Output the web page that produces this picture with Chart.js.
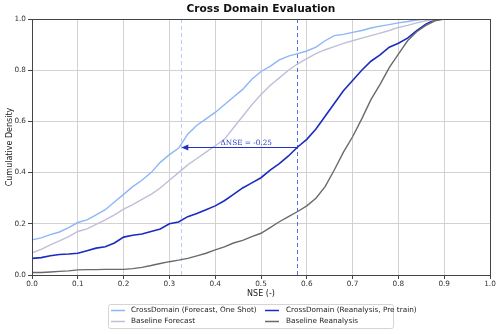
<!DOCTYPE html>
<html>
<head>
<meta charset="utf-8">
<script src="https://cdn.jsdelivr.net/npm/chart.js@4"></script>
<style>
  html, body { margin: 0; padding: 0; background: #fff; }
  #wrap { width: 500px; height: 334px; }
</style>
</head>
<body>
<div id="wrap"><canvas id="cdf" width="500" height="334"></canvas></div>
<script>
// NSE grid shared by all curves (x values)
const nseGrid = [0, 0.02, 0.04, 0.06, 0.08, 0.10, 0.12, 0.14, 0.16, 0.18,
  0.20, 0.22, 0.24, 0.26, 0.28, 0.30, 0.32, 0.34, 0.36, 0.38,
  0.40, 0.42, 0.44, 0.46, 0.48, 0.50, 0.52, 0.54, 0.56, 0.58,
  0.60, 0.62, 0.64, 0.66, 0.68, 0.70, 0.72, 0.74, 0.76, 0.78,
  0.80, 0.82, 0.84, 0.86, 0.88, 0.90, 0.92];

// cumulative density
const cdfForecastOneShot = [0.137, 0.145, 0.158, 0.168, 0.185, 0.205, 0.215, 0.235, 0.255, 0.285,
  0.315, 0.345, 0.37, 0.40, 0.44, 0.47, 0.495, 0.55, 0.585, 0.61,
  0.635, 0.665, 0.695, 0.725, 0.765, 0.795, 0.815, 0.84, 0.855, 0.865,
  0.875, 0.89, 0.915, 0.935, 0.94, 0.948, 0.955, 0.965, 0.972, 0.978,
  0.985, 0.99, 0.996, 1.0, null, null, null];
const cdfBaselineForecast = [0.087, 0.10, 0.118, 0.133, 0.15, 0.17, 0.18, 0.198, 0.215, 0.235,
  0.257, 0.275, 0.295, 0.315, 0.34, 0.37, 0.40, 0.43, 0.455, 0.48,
  0.505, 0.53, 0.575, 0.62, 0.665, 0.705, 0.74, 0.77, 0.80, 0.825,
  0.845, 0.865, 0.88, 0.892, 0.905, 0.915, 0.925, 0.935, 0.945, 0.955,
  0.967, 0.975, 0.985, 0.993, 0.998, 1.0, null];
const cdfReanalysisPretrain = [0.065, 0.068, 0.075, 0.08, 0.082, 0.085, 0.095, 0.105, 0.11, 0.125,
  0.148, 0.155, 0.16, 0.17, 0.18, 0.20, 0.207, 0.228, 0.24, 0.255,
  0.27, 0.29, 0.315, 0.34, 0.36, 0.38, 0.41, 0.435, 0.465, 0.50,
  0.53, 0.57, 0.62, 0.67, 0.72, 0.76, 0.80, 0.835, 0.86, 0.89,
  0.905, 0.925, 0.955, 0.98, 0.997, 1.0, null];
const cdfBaselineReanalysis = [0.01, 0.01, 0.012, 0.014, 0.016, 0.02, 0.021, 0.021, 0.022, 0.022,
  0.022, 0.025, 0.03, 0.037, 0.045, 0.052, 0.058, 0.065, 0.075, 0.085,
  0.098, 0.11, 0.125, 0.135, 0.15, 0.163, 0.185, 0.208, 0.228, 0.248,
  0.27, 0.30, 0.345, 0.41, 0.48, 0.54, 0.61, 0.685, 0.745, 0.81,
  0.863, 0.915, 0.95, 0.975, 0.993, 1.0, 1.0];

const seriesLabels = ['CrossDomain (Forecast, One Shot)', 'CrossDomain (Reanalysis, Pre train)',
  'Baseline Forecast', 'Baseline Reanalysis'];
const seriesColors = ['#8cb6f7', '#1a2cbf', '#bfbfd9', '#6a6a6a'];

// median markers + annotation
const medianForecast = 0.326;
const medianReanalysis = 0.579;
const medianLevel = 0.5;
const deltaLabel = 'ΔNSE = -0.25';

const FONT = '"DejaVu Sans", sans-serif';

function pts(ys) {
  return nseGrid.map((x, i) => ({ x, y: ys[i] })).filter(p => p.y !== null);
}

const extras = {
  id: 'extras',
  beforeDatasetsDraw(chart) {
    const { ctx, chartArea: a, scales: { x } } = chart;
    ctx.save();
    ctx.lineWidth = 1;
    ctx.setLineDash([4, 3]);
    ctx.strokeStyle = '#b4cdfc';
    let px = Math.round(x.getPixelForValue(medianForecast)) + 0.5;
    ctx.beginPath(); ctx.moveTo(px, a.top); ctx.lineTo(px, a.bottom); ctx.stroke();
    ctx.strokeStyle = '#4d70ee';
    px = Math.round(x.getPixelForValue(medianReanalysis)) + 0.5;
    ctx.beginPath(); ctx.moveTo(px, a.top); ctx.lineTo(px, a.bottom); ctx.stroke();
    ctx.restore();
  },
  afterDatasetsDraw(chart) {
    const { ctx, chartArea: a, scales: { x, y } } = chart;
    ctx.save();
    // arrow from reanalysis median back to forecast median
    const x0 = x.getPixelForValue(medianReanalysis);
    const x1 = x.getPixelForValue(medianForecast);
    const yy = Math.round(y.getPixelForValue(medianLevel)) + 0.5;
    ctx.strokeStyle = '#1f32c4';
    ctx.fillStyle = '#1f32c4';
    ctx.lineWidth = 1.2;
    ctx.beginPath(); ctx.moveTo(x0, yy); ctx.lineTo(x1 + 6, yy); ctx.stroke();
    ctx.beginPath();
    ctx.moveTo(x1, yy); ctx.lineTo(x1 + 7, yy - 3); ctx.lineTo(x1 + 7, yy + 3); ctx.closePath();
    ctx.fill();
    ctx.fillStyle = '#2a3ccc';
    ctx.font = '7.3px "DejaVu Serif", serif';
    ctx.textAlign = 'center';
    ctx.textBaseline = 'alphabetic';
    ctx.fillText(deltaLabel, (x0 + x1) / 2 + 7, yy - 3);

    // top / right spines
    ctx.strokeStyle = '#444';
    ctx.lineWidth = 1;
    ctx.strokeRect(Math.round(a.left) + 0.5, Math.round(a.top) + 0.5,
      Math.round(a.right - a.left), Math.round(a.bottom - a.top));
    ctx.restore();
  },
  afterDraw(chart) {
    const { ctx, chartArea: a } = chart;
    ctx.save();
    const cx = (a.left + a.right) / 2;
    ctx.fillStyle = '#111';
    ctx.textAlign = 'center';
    ctx.textBaseline = 'middle';
    ctx.font = 'bold 10.6px ' + FONT;
    ctx.fillText('Cross Domain Evaluation', cx, 9);
    ctx.fillStyle = '#222';
    ctx.font = '8px ' + FONT;
    ctx.fillText('NSE (-)', cx, 294);
    ctx.save();
    ctx.translate(10, (a.top + a.bottom) / 2);
    ctx.rotate(-Math.PI / 2);
    ctx.fillText('Cumulative Density', 0, 0);
    ctx.restore();

    // legend box, 2 columns
    ctx.fillStyle = '#fff';
    ctx.strokeStyle = '#d4d4d4';
    ctx.lineWidth = 1;
    ctx.beginPath();
    ctx.roundRect(108.5, 304.5, 285, 24, 2);
    ctx.fill(); ctx.stroke();
    const cols = [[111, 131], [265, 286]];
    const rows = [310.5, 321.5];
    ctx.font = '7.3px ' + FONT;
    ctx.textAlign = 'left';
    seriesLabels.forEach((lab, i) => {
      const c = cols[i % 2], r = rows[Math.floor(i / 2)];
      ctx.strokeStyle = seriesColors[i];
      ctx.lineWidth = 1.5;
      ctx.beginPath(); ctx.moveTo(c[0], r); ctx.lineTo(c[0] + 14, r); ctx.stroke();
      ctx.fillStyle = '#222';
      ctx.fillText(lab, c[1], r);
    });
    ctx.restore();
  }
};

const seriesData = [cdfForecastOneShot, cdfReanalysisPretrain, cdfBaselineForecast, cdfBaselineReanalysis];
const drawOrder = [3, 2, 1, 0];

new Chart(document.getElementById('cdf'), {
  type: 'scatter',
  data: {
    datasets: drawOrder.map(i => ({
      label: seriesLabels[i],
      data: pts(seriesData[i]),
      showLine: true,
      borderColor: seriesColors[i],
      borderWidth: i === 1 ? 1.6 : 1.4,
      pointRadius: 0,
      tension: 0
    }))
  },
  options: {
    responsive: false,
    animation: false,
    events: [],
    layout: { padding: { top: 19, right: 10, left: 0, bottom: 0 } },
    plugins: { legend: { display: false }, title: { display: false }, tooltip: { enabled: false } },
    scales: {
      x: {
        type: 'linear', min: 0, max: 1,
        afterFit(s) { s.height = 59; },
        ticks: { stepSize: 0.1, padding: 1, color: '#333', font: { family: FONT, size: 7.3 },
          callback: v => v.toFixed(1) },
        grid: { color: '#d2d2d2', lineWidth: 1, tickLength: 4, tickColor: '#444' },
        border: { color: '#444', width: 1 }
      },
      y: {
        min: 0, max: 1,
        afterFit(s) { s.width = 32; },
        ticks: { stepSize: 0.2, padding: 2, color: '#333', font: { family: FONT, size: 7.3 },
          callback: v => v.toFixed(1) },
        grid: { color: '#d2d2d2', lineWidth: 1, tickLength: 4, tickColor: '#444' },
        border: { color: '#444', width: 1 }
      }
    }
  },
  plugins: [extras]
});
</script>
</body>
</html>
